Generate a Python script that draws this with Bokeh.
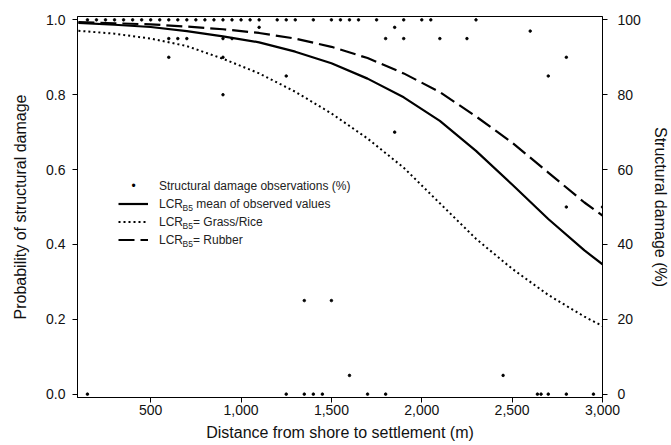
from bokeh.plotting import figure
from bokeh.models import (Range1d, LinearAxis, Legend, LegendItem, Label,
                          NumeralTickFormatter, FixedTicker)
from bokeh.embed import file_html
from bokeh.resources import INLINE

# ---- data ----
dist_grid = [100, 300, 500, 700, 900, 1100, 1300, 1500, 1700, 1900,
             2100, 2300, 2500, 2700, 2900, 3000]
p_mean = [0.992, 0.987, 0.981, 0.970, 0.956, 0.940, 0.915, 0.884, 0.843,
          0.793, 0.730, 0.650, 0.560, 0.468, 0.384, 0.347]
p_grass = [0.971, 0.963, 0.950, 0.930, 0.896, 0.857, 0.808, 0.750, 0.683,
           0.605, 0.510, 0.415, 0.335, 0.265, 0.207, 0.182]
p_rubber = [0.994, 0.991, 0.988, 0.982, 0.975, 0.965, 0.950, 0.928, 0.898,
            0.857, 0.807, 0.742, 0.672, 0.592, 0.512, 0.477]

obs_dist = [150, 200, 250, 300, 350, 400, 450, 500, 550, 600, 650, 700, 750,
            800, 850, 900, 950, 1000, 1050, 1100, 1200, 1250, 1300, 1400,
            1500, 1550, 1600, 1650, 1750, 1900, 2000, 2050, 2300,
            1100, 1850,
            2600,
            600, 650, 700, 900, 950, 1800, 1900, 2100, 2250,
            600, 900, 2800,
            1250, 2700,
            900,
            1850,
            2800, 3000,
            1350, 1500,
            1600, 2450,
            150, 1250, 1350, 1400, 1450, 1700, 1800, 2640, 2660, 2700, 2800, 2950]
obs_damage = [100, 100, 100, 100, 100, 100, 100, 100, 100, 100, 100, 100, 100,
              100, 100, 100, 100, 100, 100, 100, 100, 100, 100, 100,
              100, 100, 100, 100, 100, 100, 100, 100, 100,
              98, 98,
              97,
              95, 95, 95, 95, 95, 95, 95, 95, 95,
              90, 90, 90,
              85, 85,
              80,
              70,
              50, 50,
              25, 25,
              5, 5,
              0, 0, 0, 0, 0, 0, 0, 0, 0, 0, 0, 0]

x_ticks = [500, 1000, 1500, 2000, 2500, 3000]
y_ticks = [0.0, 0.2, 0.4, 0.6, 0.8, 1.0]
y2_ticks = [0, 20, 40, 60, 80, 100]

FONT = "Liberation Sans"

p = figure(width=671, height=445, output_backend="svg", toolbar_location=None,
           x_range=Range1d(95, 3000), y_range=Range1d(-0.009, 1.009),
           min_border_left=77, min_border_right=64, min_border_top=16,
           min_border_bottom=48)
p.extra_y_ranges = {"pct": Range1d(-0.9, 100.9)}
p.xgrid.visible = False
p.ygrid.visible = False
p.outline_line_color = "black"
p.outline_line_alpha = 1.0
p.outline_line_width = 1
p.background_fill_color = "white"
p.border_fill_color = "white"

right_axis = LinearAxis(y_range_name="pct")
p.add_layout(right_axis, "right")

for ax in [p.xaxis[0], p.yaxis[0], right_axis]:
    ax.major_tick_out = 5
    ax.major_tick_in = 0
    ax.minor_tick_out = 0
    ax.minor_tick_in = 0
    ax.axis_line_color = "black"
    ax.major_tick_line_color = "black"
    ax.major_label_text_font = FONT
    ax.major_label_text_font_size = "14px"
    ax.major_label_text_color = "#111111"
    ax.axis_label_text_font = FONT
    ax.axis_label_text_font_size = "16px"
    ax.axis_label_text_font_style = "normal"
    ax.axis_label_text_color = "#111111"

p.xaxis[0].ticker = FixedTicker(ticks=x_ticks)
p.xaxis[0].formatter = NumeralTickFormatter(format="0,0")
p.xaxis[0].axis_label = "Distance from shore to settlement (m)"
p.xaxis[0].major_label_standoff = 2
p.xaxis[0].axis_label_standoff = 6

p.yaxis[0].ticker = FixedTicker(ticks=y_ticks)
p.yaxis[0].formatter = NumeralTickFormatter(format="0.0")
p.yaxis[0].axis_label = "Probability of structural damage"
p.yaxis[0].major_label_standoff = 7
p.yaxis[0].axis_label_standoff = 14

right_axis.ticker = FixedTicker(ticks=y2_ticks)
right_axis.axis_label = "Structural damage (%)"
right_axis.major_label_standoff = 10
right_axis.axis_label_standoff = 8

r_mean = p.line(dist_grid, p_mean, line_color="black", line_width=2.2)
r_grass = p.line(dist_grid, p_grass, line_color="black", line_width=2,
                 line_dash="2 3")
r_rubber = p.line(dist_grid, p_rubber, line_color="black", line_width=2.2,
                  line_dash="16 6")
r_obs = p.scatter(obs_dist, obs_damage, y_range_name="pct", size=2.6,
                  marker="circle", fill_color="black", line_color="black",
                  line_width=0.8)

# legend-only (empty) renderer; the small key dot is drawn as a bullet label
r_obs_key = p.line([], [], line_color="black", line_alpha=0)

NB = "\u00a0"
legend = Legend(items=[
    LegendItem(label="Structural damage observations (%)", renderers=[r_obs_key]),
    LegendItem(label="LCR" + NB * 4 + "mean of observed values", renderers=[r_mean]),
    LegendItem(label="LCR" + NB * 3 + "= Grass/Rice", renderers=[r_grass]),
    LegendItem(label="LCR" + NB * 3 + "= Rubber", renderers=[r_rubber]),
], location=(41, 150), orientation="vertical", glyph_width=30, glyph_height=15,
    label_height=15, label_standoff=11, spacing=3, padding=0, margin=0,
    border_line_alpha=0, background_fill_alpha=0, label_text_font=FONT,
    label_text_font_size="12px", label_text_color="#222222")
p.add_layout(legend)

p.add_layout(Label(x=56, y=211.5, x_units="screen", y_units="screen",
                   text="\u2022", text_font=FONT, text_font_size="12px",
                   text_baseline="middle", text_align="center",
                   text_color="black"))

for yc in [193.5, 175.5, 157.5]:
    p.add_layout(Label(x=105, y=yc - 4, x_units="screen", y_units="screen",
                       text="B5", text_font=FONT, text_font_size="8.5px",
                       text_baseline="middle", text_align="left",
                       text_color="#222222"))

open("out.html", "w").write(file_html(p, INLINE))
